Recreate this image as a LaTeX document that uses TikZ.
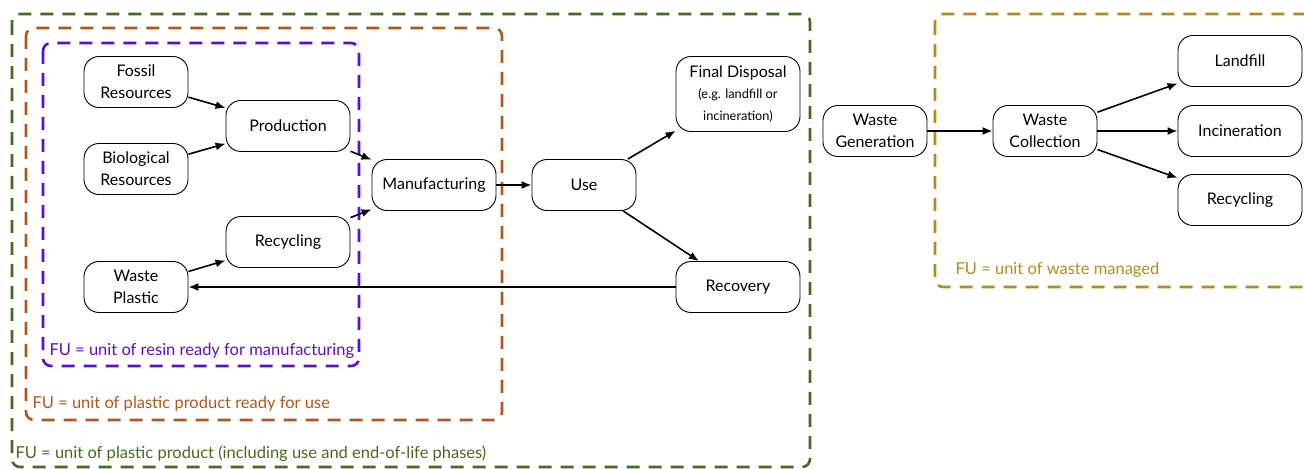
\documentclass[tikz,border=0pt]{standalone}
\usepackage{fontspec}
\setmainfont{Lato}
\usetikzlibrary{arrows.meta}

\definecolor{fugreen}{HTML}{48691E}
\definecolor{fubrown}{HTML}{B4561C}
\definecolor{fupurple}{HTML}{5A0FCB}
\definecolor{fugold}{HTML}{B38B1E}

\newcommand{\smalltxt}{\fontsize{12.8}{16}\selectfont}

\begin{document}
\begin{tikzpicture}[
    x=1pt, y=-1pt,
    every node/.style={
        font=\fontsize{16}{22}\selectfont
    },
    stage/.style={
        draw,
        rounded corners=15pt,
        minimum width=124pt,
        minimum height=51pt,
        inner sep=0pt,
        align=center,
        line width=0.9pt
    },
    source/.style={stage, minimum width=104pt},
    frame/.style={line width=2.6pt, rounded corners=8pt, dash pattern=on 13pt off 9pt},
    fulabel/.style={anchor=west, font=\fontsize{16.5}{18}\selectfont}
]
\useasboundingbox (0,0) rectangle (1304,470);

% 경계
\draw[frame, fugreen] (12,14) rectangle (810,467);
\draw[frame, fubrown] (26,28) rectangle (502,420);
\draw[frame, fupurple] (43,43) rectangle (359,366);
\draw[frame, fugold] (935,14) rectangle (1330,287);

\node[fulabel, text=fugreen] (lblproduct) at (12,454) {FU = unit of plastic product (including use and end-of-life phases)};
\node[fulabel, text=fubrown] (lblready) at (29,404) {FU = unit of plastic product ready for use};
\node[fulabel, text=fupurple] (lblresin) at (46,351) {FU = unit of resin ready for manufacturing};
\node[fulabel, text=fugold] (lblwaste) at (952,270) {FU = unit of waste managed};

% 노드
\node[source] (fossil) at (136,82) {Fossil\\Resources};
\node[stage] (production) at (288,126) {Production};
\node[source] (bio) at (136,169) {Biological\\Resources};
\node[stage] (manufacturing) at (434,185) {Manufacturing};
\node[stage] (recyclingA) at (288,242) {Recycling};
\node[source] (wasteplastic) at (136,287) {Waste\\Plastic};
\node[source] (use) at (584,185) {Use};
\node[stage, minimum height=75pt] (disposal) at (738,94) {Final Disposal\\[-1pt]\smalltxt (e.g. landfill or\\\smalltxt incineration)};
\node[stage] (recovery) at (738,287) {Recovery};

\node[source] (wastegen) at (875,131) {Waste\\Generation};
\node[source] (wastecoll) at (1045,131) {Waste\\Collection};
\node[stage] (landfill) at (1240,61) {Landfill};
\node[stage] (incineration) at (1240,131) {Incineration};
\node[stage] (recyclingB) at (1240,200) {Recycling};

% 간선
\draw[->, line width=1.6pt, >={Latex[length=10pt,width=8pt]}] (fossil) -- (production);
\draw[->, line width=1.6pt, >={Latex[length=10pt,width=8pt]}] (bio) -- (production);
\draw[->, line width=1.6pt, >={Latex[length=10pt,width=8pt]}] (production) -- (manufacturing);
\draw[->, line width=1.6pt, >={Latex[length=10pt,width=8pt]}] (wasteplastic) -- (recyclingA);
\draw[->, line width=1.6pt, >={Latex[length=10pt,width=8pt]}] (recyclingA) -- (manufacturing);
\draw[->, line width=1.6pt, >={Latex[length=10pt,width=8pt]}] (manufacturing) -- (use);
\draw[->, line width=1.6pt, >={Latex[length=10pt,width=8pt]}] (use) -- (disposal);
\draw[->, line width=1.6pt, >={Latex[length=10pt,width=8pt]}] (use) -- (recovery);
\draw[->, line width=1.6pt, >={Latex[length=10pt,width=8pt]}] (recovery) -- (wasteplastic);

\draw[->, line width=1.6pt, >={Latex[length=10pt,width=8pt]}] (wastegen) -- (wastecoll);
\draw[->, line width=1.6pt, >={Latex[length=10pt,width=8pt]}] (wastecoll) -- (landfill);
\draw[->, line width=1.6pt, >={Latex[length=10pt,width=8pt]}] (wastecoll) -- (incineration);
\draw[->, line width=1.6pt, >={Latex[length=10pt,width=8pt]}] (wastecoll) -- (recyclingB);

\end{tikzpicture}
\end{document}
